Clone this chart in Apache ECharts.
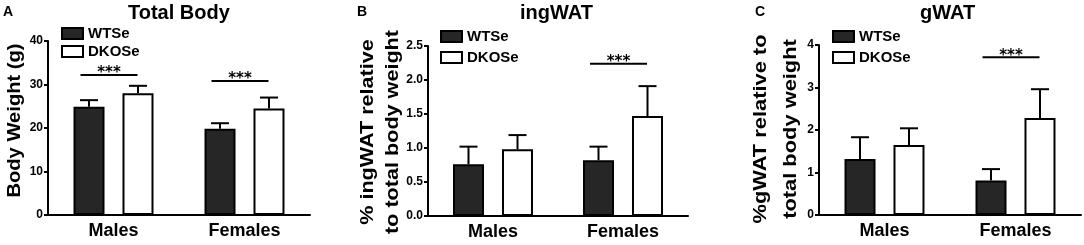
<!DOCTYPE html>
<html>
<head>
<meta charset="utf-8">
<script src="https://cdn.jsdelivr.net/npm/echarts@6/dist/echarts.min.js"></script>
<style>
    html, body { margin: 0; padding: 0; background: #fff; }
    #chart { width: 1084px; height: 245px; }
</style>
</head>
<body>
<div id="chart"></div>
<script>
// 类别 / 分组
var categories = ['Males', 'Females'];
var groupNames = ['WTSe', 'DKOSe'];

// A: Total Body, body weight (g), mean + upper error
var bodyTicks = [0, 10, 20, 30, 40];
var bodyWTSe = [24.9, 19.8];
var bodyWTSeErr = [1.5, 1.3];
var bodyDKOSe = [28.0, 24.5];
var bodyDKOSeErr = [1.7, 2.5];
var bodySig = [[0, 32.2], [1, 30.8]];

// B: ingWAT, % relative to total body weight
var ingTicks = [0, 0.5, 1.0, 1.5, 2.0, 2.5];
var ingWTSe = [0.76, 0.82];
var ingWTSeErr = [0.26, 0.20];
var ingDKOSe = [0.98, 1.47];
var ingDKOSeErr = [0.21, 0.44];
var ingSig = [[1, 2.24]];

// C: gWAT, % relative to total body weight
var gTicks = [0, 1, 2, 3, 4];
var gWTSe = [1.32, 0.81];
var gWTSeErr = [0.51, 0.27];
var gDKOSe = [1.65, 2.28];
var gDKOSeErr = [0.39, 0.68];
var gSig = [[1, 3.71]];

var FONT = '"Liberation Sans", Arial, sans-serif';
var BAR_OFFSET = 24.5; // 每组两根柱子中心到类别中心的距离(px)

var panels = [{
    letter: 'A', letterX: 3, title: 'Total Body', titleLeft: 128,
    ticks: bodyTicks, decimals: 0,
    wt: bodyWTSe, wtErr: bodyWTSeErr, ko: bodyDKOSe, koErr: bodyDKOSeErr, sig: bodySig,
    grid: { left: 48, width: 262, top: 41, height: 174 },
    legend: { left: 61, top: 26, itemGap: 3 },
    yName: { text: 'Body Weight (g)', x: 15, y: 120.5, size: 18, scale: 1.12, lineHeight: 20 }
}, {
    letter: 'B', letterX: 357, title: 'ingWAT', titleLeft: 520,
    ticks: ingTicks, decimals: 1,
    wt: ingWTSe, wtErr: ingWTSeErr, ko: ingDKOSe, koErr: ingDKOSeErr, sig: ingSig,
    grid: { left: 428, width: 260, top: 46, height: 170 },
    legend: { left: 440, top: 29, itemGap: 6 },
    yName: { text: '% ingWAT relative\nto total body weight', x: 381, y: 132, size: 18, scale: 1.2, lineHeight: 25 }
}, {
    letter: 'C', letterX: 755, title: 'gWAT', titleLeft: 920,
    ticks: gTicks, decimals: 0,
    wt: gWTSe, wtErr: gWTSeErr, ko: gDKOSe, koErr: gDKOSeErr, sig: gSig,
    grid: { left: 819, width: 262, top: 45, height: 170 },
    legend: { left: 832, top: 29, itemGap: 6 },
    yName: { text: '%gWAT relative to\ntotal body weight', x: 776, y: 129, size: 19, scale: 1.15, lineHeight: 30 }
}];

function errorBarItem(offset) {
    return function (params, api) {
        var base = api.coord([api.value(0), api.value(1)]);
        var top = api.coord([api.value(0), api.value(1) + api.value(2)]);
        var x = base[0] + offset;
        return {
            type: 'group',
            children: [{
                type: 'line',
                shape: { x1: x, y1: base[1], x2: x, y2: top[1] },
                style: { stroke: '#000', lineWidth: 2 }
            }, {
                type: 'line',
                shape: { x1: x - 9, y1: top[1], x2: x + 9, y2: top[1] },
                style: { stroke: '#000', lineWidth: 2 }
            }]
        };
    };
}

function sigItem(params, api) {
    var p = api.coord([api.value(0), api.value(1)]);
    return {
        type: 'group',
        children: [{
            type: 'line',
            shape: { x1: p[0] - 33, y1: p[1], x2: p[0] + 24, y2: p[1] },
            style: { stroke: '#000', lineWidth: 2 }
        }, {
            type: 'text',
            x: p[0] - 4.5,
            y: p[1] - 1.5,
            style: {
                text: '***', font: 'bold 15px "DejaVu Sans", sans-serif', fill: '#000',
                textAlign: 'center', textVerticalAlign: 'middle'
            }
        }]
    };
}

var option = {
    backgroundColor: '#fff',
    animation: false,
    title: [],
    legend: [],
    grid: [],
    xAxis: [],
    yAxis: [],
    series: [],
    graphic: []
};

panels.forEach(function (p, i) {
    var ticks = p.ticks;

    option.title.push({
        text: p.title, left: p.titleLeft, top: 3, padding: 0,
        textStyle: { fontSize: 20, fontWeight: 'bold', color: '#000', fontFamily: FONT }
    });

    option.legend.push({
        data: groupNames, orient: 'vertical', left: p.legend.left, top: p.legend.top,
        itemGap: p.legend.itemGap, itemWidth: 21, itemHeight: 11, icon: 'rect', padding: 0,
        selectedMode: false,
        itemStyle: { borderColor: '#000', borderWidth: 2 },
        textStyle: { fontSize: 15, fontWeight: 'bold', color: '#000', fontFamily: FONT }
    });

    option.grid.push({
        left: p.grid.left, width: p.grid.width, top: p.grid.top, height: p.grid.height,
        containLabel: false
    });

    option.xAxis.push({
        type: 'category', gridIndex: i, data: categories,
        axisLine: { lineStyle: { color: '#000', width: 2 } },
        axisTick: { alignWithLabel: true, length: 4, lineStyle: { color: '#000', width: 2 } },
        axisLabel: { fontSize: 18, fontWeight: 'bold', color: '#000', fontFamily: FONT, margin: 7 },
        splitLine: { show: false }
    });

    option.yAxis.push({
        type: 'value', gridIndex: i,
        min: ticks[0], max: ticks[ticks.length - 1], interval: ticks[1] - ticks[0],
        axisLine: { show: true, lineStyle: { color: '#000', width: 2 } },
        axisTick: { show: true, length: 4, lineStyle: { color: '#000', width: 2 } },
        axisLabel: {
            fontSize: 12, fontWeight: 'bold', color: '#000', fontFamily: FONT, margin: 5,
            formatter: function (v) { return v.toFixed(p.decimals); }
        },
        splitLine: { show: false }
    });

    [[p.wt, p.wtErr, '#262626', -BAR_OFFSET], [p.ko, p.koErr, '#fff', BAR_OFFSET]].forEach(function (g, k) {
        option.series.push({
            name: groupNames[k], type: 'bar', xAxisIndex: i, yAxisIndex: i,
            data: g[0], barWidth: 31, barGap: '58%',
            itemStyle: { color: g[2], borderColor: '#000', borderWidth: 2 }
        });
        option.series.push({
            type: 'custom', xAxisIndex: i, yAxisIndex: i, z: 3,
            renderItem: errorBarItem(g[3]),
            data: g[0].map(function (v, j) { return [j, v, g[1][j]]; })
        });
    });

    option.series.push({
        type: 'custom', xAxisIndex: i, yAxisIndex: i, z: 3,
        renderItem: sigItem, data: p.sig
    });

    option.graphic.push({
        type: 'text', x: p.letterX, y: 5,
        style: { text: p.letter, font: 'bold 14px ' + FONT, fill: '#000', textVerticalAlign: 'top' }
    });
    option.graphic.push({
        type: 'text', x: p.yName.x, y: p.yName.y, rotation: Math.PI / 2, scaleX: p.yName.scale,
        style: {
            text: p.yName.text, font: 'bold ' + p.yName.size + 'px ' + FONT, fill: '#000',
            textAlign: 'center', textVerticalAlign: 'middle', lineHeight: p.yName.lineHeight
        }
    });
});

var myChart = echarts.init(document.getElementById('chart'), null, { renderer: 'canvas' });
myChart.setOption(option);
</script>
</body>
</html>
